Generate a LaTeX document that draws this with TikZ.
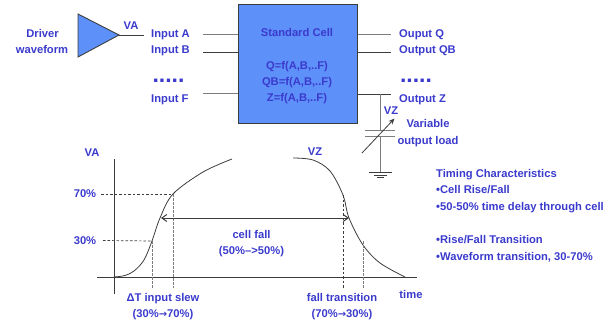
\documentclass[tikz,border=0pt]{standalone}
\usepackage{fontspec}
\setmainfont{Liberation Sans}
\newfontfamily\arrowfont{DejaVu Sans}
\usetikzlibrary{arrows.meta,positioning,calc}
\definecolor{labelblue}{RGB}{58,58,205}
\definecolor{cellblue}{RGB}{94,144,250}
\definecolor{wiregray}{RGB}{125,125,125}
\definecolor{wiredark}{RGB}{60,60,60}
\newcommand{\rarrow}{{\arrowfont\bfseries\fontsize{10}{12}\selectfont →}}
\tikzset{
  lbl/.style={text=labelblue,font=\fontsize{11.2}{12}\selectfont\bfseries,inner sep=0pt,anchor=center,text height=8pt,text depth=2.4pt,yshift=-1.5pt},
  lblleft/.style={lbl,anchor=west},
  dotrow/.style={lbl,anchor=base,font=\fontsize{23}{23}\selectfont\bfseries},
  wire/.style={wiredark,line width=0.8pt},
  graywire/.style={wiregray,line width=1pt},
  guide/.style={wiredark,line width=0.7pt,dash pattern=on 2.5pt off 2pt},
  grayguide/.style={wiregray,line width=0.8pt,dash pattern=on 2.5pt off 1.5pt},
  wave/.style={wiredark,line width=0.8pt}
}
\begin{document}
\begin{tikzpicture}[x=1pt,y=-1pt]
        \useasboundingbox (0,0) rectangle (608,321);
        % driver
        \coordinate (drvT) at (78,14);
        \coordinate (drvB) at (78,57);
        \coordinate (drvO) at (119,35);
        \coordinate (drvEnd) at (144,35);
        \draw[wiredark,line width=0.9pt,fill=cellblue] (drvT) -- (drvB) -- (drvO) -- cycle;
        \draw[wire] (drvO) -- (drvEnd);
        \node[lbl] (drvname) at (42.5,33.5) {Driver};
        \node[lbl] (drvwave) at (42,49.5) {waveform};
        \node[lbl] (va) at (131,25) {VA};
        % cell
        \node[draw=wiredark,line width=1pt,fill=cellblue,minimum width=119pt,minimum height=118pt,inner sep=0pt] (cell) at (297.5,64) {};
        \foreach \n/\y/\label in {title/32/Standard Cell,fq/65/{Q=f(A,B,..F)},fqb/81/{QB=f(A,B,..F)},fz/97/{Z=f(A,B,..F)}} {
          \node[lbl] (\n) at (297,\y) {\label};
        }
        % pins
        \foreach \n/\y/\ly/\label/\sty in {inA/34.5/33.5/Input A/graywire,inB/52/49.5/Input B/wire,inF/94/98/Input F/graywire} {
          \node[lblleft] (\n) at (151,\ly) {\label};
          \coordinate (\n end) at (203,\y);
          \draw[\sty] (\n end) -- (\n end -| cell.west);
        }
        \foreach \n/\y/\ly/\label/\sty in {outQ/34.5/33.5/Ouput Q/graywire,outQB/52/49.5/Output QB/wire,outZ/94/98/Output Z/wire} {
          \node[lblleft] (\n) at (399,\ly) {\label};
          \coordinate (\n end) at (391,\y);
          \draw[\sty] (\n end -| cell.east) -- (\n end);
        }
        \node[dotrow] (dotsL) at (168.5,81) {.....};
        \node[dotrow] (dotsR) at (416,81) {.....};
        % load
        \coordinate (capT) at (380,94);
        \coordinate (capA) at (380,130.5);
        \coordinate (capB) at (380,136.5);
        \coordinate (gnd) at (380,172.5);
        \draw[graywire] (capT) -- (capA);
        \draw[graywire] (capB) -- (gnd);
        \draw[graywire] ($(capA)+(-15,0)$) -- ($(capA)+(15,0)$);
        \draw[graywire] ($(capB)+(-15,0)$) -- ($(capB)+(15,0)$);
        \draw[wiredark,line width=0.8pt] ($(gnd)+(-11,0)$) -- ($(gnd)+(12,0)$);
        \draw[wiredark,line width=0.8pt] ($(gnd)+(-6,2.5)$) -- ($(gnd)+(7,2.5)$);
        \draw[wiredark,line width=0.8pt] ($(gnd)+(-3,5)$) -- ($(gnd)+(4,5)$);
        \coordinate (varS) at (362,153);
        \coordinate (varE) at (394.5,118.5);
        \draw[wire,-{Stealth[length=6pt,width=5pt]}] (varS) -- (varE);
        \node[lbl] (vz) at (391,110) {VZ};
        \node[lbl] (varname) at (428,123) {Variable};
        \node[lbl] (varload) at (428,140) {output load};
        % plot
        \coordinate (yT) at (114,159);
        \coordinate (yB) at (114,294);
        \coordinate (xL) at (97,277);
        \coordinate (xR) at (417,277);
        \draw[wire] (yT) -- (yB);
        \draw[wire] (xL) -- (xR);
        \draw[wave] plot[smooth,tension=0.55] coordinates {(114,277) (125,275.5) (134,271) (144,260) (152,241) (160,218) (173,194) (203,172) (232,159)};
        \draw[wave] plot[smooth,tension=0.55] coordinates {(293,158) (313,160) (330,171) (343,195) (349,218) (363,245) (380,263) (405,277)};
        \coordinate (hi) at (173,194);
        \coordinate (lo) at (152,241);
        \coordinate (fhi) at (343,195);
        \coordinate (flo) at (363,241);
        \draw[guide] (101,194) -- (hi);
        \draw[guide] (103,240.5) -- (lo);
        \draw[grayguide] (lo) -- (152,288);
        \draw[grayguide] (hi) -- (173,288);
        \draw[guide] (fhi) -- (343,288);
        \draw[grayguide] (flo) -- (363,288);
        \coordinate (midL) at (161,218);
        \coordinate (midR) at (349,218);
        \draw[wire,line width=1pt,{Straight Barb[length=5pt,width=7pt]}-{Straight Barb[length=5pt,width=7pt]}] (midL) -- (midR);
        \foreach \n/\x/\y/\label in {vaplot/92/152/VA,vzplot/315/151/VZ,pcthi/85/193/70\%,pctlo/85/240/30\%,cellfall/251.5/234/cell fall,cellpct/251.5/250/(50\%-->50\%),slew/163/297/ΔT input slew,slewpct/163/313/(30\%\rarrow70\%),falltr/342/297/fall transition,fallpct/342/313/(70\%\rarrow30\%),timelbl/411/294/time} {
          \node[lbl] (\n) at (\x,\y) {\label};
        }
        % notes
        \foreach \n/\y/\label in {noteA/173/Timing Characteristics,noteB/189.5/{•Cell Rise/Fall},noteC/206/•50-50\% time delay through cell,noteD/239.5/{•Rise/Fall Transition},noteE/256/{•Waveform transition, 30-70\%}} {
          \node[lblleft] (\n) at (436,\y) {\label};
        }
\end{tikzpicture}
\end{document}
